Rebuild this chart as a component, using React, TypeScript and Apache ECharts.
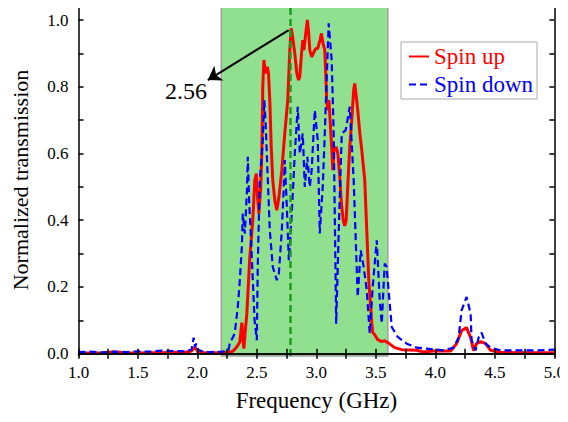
import React, { useEffect, useRef } from "react";
import * as echarts from "echarts";

const FONT = "Liberation Serif";

// Spin up (red, solid): [frequency GHz, normalized transmission]
const spinUp: number[][] = [
  [1.0, 0.002], [1.1, 0.002], [1.2, 0.002], [1.25, 0.004], [1.3, 0.005], [1.35, 0.004], [1.4, 0.002],
  [1.5, 0.002], [1.6, 0.003], [1.7, 0.003], [1.8, 0.004], [1.9, 0.004], [1.95, 0.008], [1.975, 0.019],
  [1.99, 0.014], [2.0, 0.006], [2.05, 0.003], [2.1, 0.003], [2.2, 0.003], [2.27, 0.004], [2.3, 0.008],
  [2.33, 0.02], [2.356, 0.035], [2.373, 0.093], [2.383, 0.04], [2.39, 0.015], [2.4, 0.06], [2.415, 0.12],
  [2.44, 0.29], [2.465, 0.4], [2.482, 0.52], [2.495, 0.54], [2.505, 0.47], [2.516, 0.42], [2.532, 0.5],
  [2.541, 0.6], [2.549, 0.8], [2.558, 0.88], [2.566, 0.86], [2.574, 0.84], [2.587, 0.86], [2.597, 0.84],
  [2.608, 0.76], [2.62, 0.62], [2.633, 0.52], [2.65, 0.46], [2.667, 0.43], [2.685, 0.47], [2.709, 0.55],
  [2.734, 0.66], [2.759, 0.76], [2.776, 0.91], [2.788, 0.975], [2.8, 0.95], [2.818, 0.9], [2.835, 0.84],
  [2.85, 0.82], [2.86, 0.83], [2.875, 0.9], [2.885, 0.94], [2.895, 0.91], [2.91, 0.96], [2.924, 1.0],
  [2.935, 0.96], [2.944, 0.91], [2.96, 0.89], [2.975, 0.9], [2.986, 0.91], [3.0, 0.915], [3.011, 0.915],
  [3.03, 0.94], [3.042, 0.96], [3.055, 0.93], [3.07, 0.91], [3.08, 0.82], [3.086, 0.76], [3.095, 0.73],
  [3.105, 0.76], [3.115, 0.7], [3.128, 0.62], [3.137, 0.55], [3.147, 0.61], [3.165, 0.62], [3.18, 0.6],
  [3.196, 0.53], [3.21, 0.45], [3.225, 0.4], [3.238, 0.383], [3.25, 0.4], [3.263, 0.5], [3.28, 0.62],
  [3.297, 0.7], [3.313, 0.79], [3.322, 0.81], [3.335, 0.77], [3.347, 0.73], [3.365, 0.66], [3.381, 0.61],
  [3.406, 0.52], [3.423, 0.37], [3.44, 0.22], [3.465, 0.093], [3.473, 0.063], [3.49, 0.057], [3.515, 0.042],
  [3.549, 0.036], [3.574, 0.039], [3.6, 0.033], [3.658, 0.018], [3.717, 0.012], [3.843, 0.01], [3.9, 0.005],
  [3.985, 0.008], [4.128, 0.008], [4.178, 0.03], [4.22, 0.069], [4.262, 0.078], [4.296, 0.048],
  [4.321, 0.009], [4.346, 0.03], [4.38, 0.036], [4.422, 0.03], [4.464, 0.01], [4.548, 0.004], [4.7, 0.003],
  [4.85, 0.003], [5.0, 0.003],
];

// Spin down (blue, dashed)
const spinDown: number[][] = [
  [1.0, 0.005], [1.1, 0.006], [1.2, 0.004], [1.3, 0.006], [1.4, 0.005], [1.5, 0.007], [1.6, 0.006],
  [1.7, 0.009], [1.8, 0.008], [1.9, 0.007], [1.95, 0.012], [1.968, 0.048], [1.98, 0.02], [1.99, 0.03],
  [2.005, 0.012], [2.05, 0.006], [2.1, 0.005], [2.2, 0.006], [2.26, 0.008], [2.272, 0.033], [2.3, 0.05],
  [2.314, 0.063], [2.339, 0.14], [2.356, 0.22], [2.373, 0.32], [2.381, 0.42], [2.398, 0.36], [2.415, 0.48],
  [2.423, 0.59], [2.435, 0.45], [2.448, 0.36], [2.465, 0.22], [2.48, 0.1], [2.499, 0.04], [2.507, 0.27],
  [2.524, 0.52], [2.549, 0.64], [2.562, 0.76], [2.574, 0.68], [2.587, 0.56], [2.608, 0.37], [2.633, 0.26],
  [2.667, 0.22], [2.684, 0.24], [2.709, 0.37], [2.722, 0.47], [2.734, 0.58], [2.75, 0.45], [2.768, 0.28],
  [2.79, 0.4], [2.818, 0.6], [2.843, 0.74], [2.86, 0.6], [2.885, 0.66], [2.902, 0.5], [2.924, 0.59],
  [2.944, 0.5], [2.96, 0.55], [2.986, 0.73], [3.011, 0.64], [3.028, 0.36], [3.053, 0.5], [3.07, 0.66],
  [3.103, 0.99], [3.128, 0.88], [3.145, 0.66], [3.166, 0.09], [3.19, 0.4], [3.213, 0.66], [3.246, 0.67],
  [3.28, 0.74], [3.313, 0.52], [3.347, 0.17], [3.372, 0.31], [3.397, 0.26], [3.423, 0.19], [3.448, 0.06],
  [3.473, 0.2], [3.507, 0.34], [3.532, 0.16], [3.549, 0.09], [3.574, 0.27], [3.59, 0.26], [3.616, 0.15],
  [3.633, 0.08], [3.683, 0.05], [3.759, 0.03], [3.843, 0.018], [3.927, 0.015], [4.07, 0.01], [4.153, 0.018],
  [4.195, 0.048], [4.22, 0.13], [4.262, 0.17], [4.296, 0.12], [4.304, 0.04], [4.338, 0.01], [4.363, 0.048],
  [4.388, 0.063], [4.422, 0.03], [4.464, 0.018], [4.548, 0.01], [4.7, 0.01], [4.85, 0.01], [5.0, 0.012],
];

const yLabelValues = [0, 0.2, 0.4, 0.6, 0.8, 1.0];
const yTickValues = [0, 0.1, 0.2, 0.3, 0.4, 0.5, 0.6, 0.7, 0.8, 0.9, 1.0];
const bandRange = [2.2, 3.6];
const markerFreq = 2.784;
const arrowStart = [2.767, 0.97];
const arrowEnd = [2.087, 0.82];
const annotationPos = [1.903, 0.787];
const annotationText = "2.56";

export default function App() {
  const ref = useRef<HTMLDivElement>(null);
  useEffect(() => {
    if (!ref.current) return;
    const chart = echarts.init(ref.current, undefined, { renderer: "svg" });
    const axisLine = { show: true, lineStyle: { color: "#000", width: 1.5 } };
    const xCommon = {
      type: "value",
      min: 1,
      max: 5,
      interval: 0.25,
      z: 10,
      axisLine,
      splitLine: { show: false },
      axisTick: { show: true, inside: true, length: 5, lineStyle: { color: "#000", width: 1.5 } },
    };
    const yCommon = {
      type: "value",
      min: -0.007,
      max: 1.048,
      z: 10,
      axisLine,
      splitLine: { show: false },
      axisTick: {
        show: true,
        inside: true,
        length: 5,
        customValues: yTickValues,
        lineStyle: { color: "#000", width: 1.5 },
      },
    };
    chart.setOption({
      animation: false,
      backgroundColor: "#fff",
      textStyle: { fontFamily: FONT },
      grid: { left: 78.5, right: 13.5, top: 4, bottom: 66, containLabel: false },
      legend: {
        left: 401,
        top: 42,
        orient: "vertical",
        itemWidth: 20,
        itemHeight: 14,
        itemGap: 5,
        padding: [3, 4, 3, 7],
        borderColor: "#aaa",
        borderWidth: 1,
        backgroundColor: "#fff",
        itemStyle: { opacity: 0 },
        textStyle: { fontFamily: FONT, fontSize: 23 },
        data: [
          { name: "Spin up", textStyle: { color: "#ff0000" } },
          { name: "Spin down", textStyle: { color: "#0000ff" } },
        ],
      },
      xAxis: [
        {
          ...xCommon,
          position: "bottom",
          name: "Frequency (GHz)",
          nameLocation: "middle",
          nameGap: 33,
          nameTextStyle: { fontFamily: FONT, fontSize: 23, color: "#000" },
          axisLabel: {
            fontFamily: FONT,
            fontSize: 17,
            color: "#000",
            margin: 8,
            formatter: (v: number) =>
              Math.abs(v * 2 - Math.round(v * 2)) < 1e-6 ? v.toFixed(1) : "",
          },
        },
        { ...xCommon, position: "top", axisLabel: { show: false } },
      ],
      yAxis: [
        {
          ...yCommon,
          position: "left",
          name: "Normalized transmission",
          nameLocation: "middle",
          nameGap: 47,
          nameTextStyle: { fontFamily: FONT, fontSize: 22, color: "#000" },
          axisLabel: {
            fontFamily: FONT,
            fontSize: 17,
            color: "#000",
            margin: 10,
            customValues: yLabelValues,
            formatter: (v: number) => v.toFixed(1),
          },
        },
        { ...yCommon, position: "right", axisLabel: { show: false } },
      ],
      series: [
        {
          name: "Spin up",
          type: "line",
          data: spinUp,
          showSymbol: false,
          symbol: "none",
          z: 3,
          lineStyle: { color: "#ff0000", width: 3 },
          itemStyle: { color: "#ff0000" },
          markArea: {
            silent: true,
            itemStyle: { color: "#90e090", borderColor: "#a0a0a0", borderWidth: 1.5 },
            data: [[{ xAxis: bandRange[0] }, { xAxis: bandRange[1] }]],
          },
        },
        {
          name: "Spin down",
          type: "line",
          data: spinDown,
          showSymbol: false,
          symbol: "none",
          z: 4,
          lineStyle: { color: "#0000ff", width: 2.2, type: [7, 4] },
          itemStyle: { color: "#0000ff" },
          markLine: {
            silent: true,
            animation: false,
            symbol: ["none", "none"],
            lineStyle: { color: "#000", width: 2, type: "solid" },
            label: { show: false },
            data: [
              {
                xAxis: markerFreq,
                lineStyle: { color: "#1e9a1e", width: 2.5, type: [7, 4] },
              },
              [
                { coord: arrowStart, symbol: "none" },
                { coord: arrowEnd, symbol: "arrow", symbolSize: 13 },
              ],
            ],
          },
          markPoint: {
            silent: true,
            symbol: "circle",
            symbolSize: 0,
            label: { fontFamily: FONT },
            data: [
              {
                coord: annotationPos,
                label: {
                  show: true,
                  position: "inside",
                  formatter: annotationText,
                  fontFamily: FONT,
                  fontSize: 24,
                  color: "#000",
                },
              },
            ],
          },
        },
      ],
    });
    return () => chart.dispose();
  }, []);
  return <div ref={ref} style={{ width: 568, height: 422, margin: -8 }} />;
}
